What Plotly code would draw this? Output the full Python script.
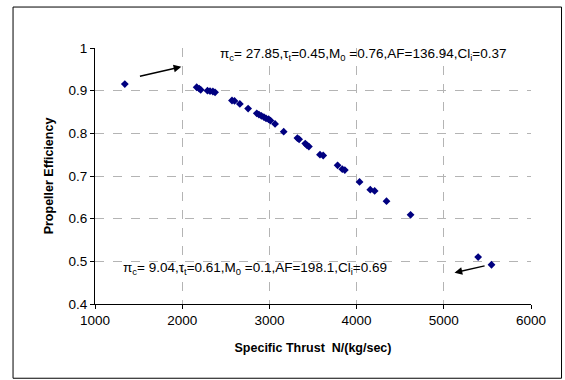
import plotly.graph_objects as go

# Data
specific_thrust = [1342, 2166, 2195, 2212, 2290, 2319, 2352, 2377, 2571, 2600, 2661, 2756,
                   2855, 2880, 2908, 2937, 2962, 2991, 3012, 3065, 3164, 3321, 3341,
                   3411, 3432, 3453, 3580, 3617, 3782, 3836, 3865, 4034, 4157, 4207,
                   4343, 4619, 5394, 5547]
propeller_eff = [0.9155, 0.908, 0.905, 0.902, 0.900, 0.899, 0.898, 0.896, 0.877, 0.876, 0.869, 0.858,
                 0.847, 0.844, 0.841, 0.838, 0.835, 0.833, 0.830, 0.822, 0.804, 0.789, 0.786,
                 0.776, 0.772, 0.769, 0.750, 0.748, 0.725, 0.716, 0.714, 0.686, 0.668, 0.665,
                 0.641, 0.609, 0.510, 0.492]

x_ticks = [1000, 2000, 3000, 4000, 5000, 6000]
y_ticks = [0.4, 0.5, 0.6, 0.7, 0.8, 0.9, 1.0]

top_label = "π<sub>c</sub>= 27.85,τ<sub>t</sub>=0.45,M<sub>0</sub> =0.76,AF=136.94,Cl<sub>i</sub>=0.37"
bottom_label = "π<sub>c</sub>= 9.04,τ<sub>t</sub>=0.61,M<sub>0</sub> =0.1,AF=198.1,Cl<sub>i</sub>=0.69"

# arrows: (tail_x, tail_y, head_x, head_y) in data units
arrow_top = (1498, 0.933, 1990, 0.956)
arrow_bottom = (5485, 0.490, 5123, 0.4735)

FONT = "Liberation Sans, Arial, sans-serif"

fig = go.Figure()
fig.add_trace(go.Scatter(
    x=specific_thrust, y=propeller_eff, mode="markers",
    marker=dict(symbol="diamond", size=6, color="#000080", line=dict(width=0)),
    showlegend=False, cliponaxis=False))

axis_common = dict(showgrid=True, gridcolor="#b4b4b4", griddash="dash", gridwidth=1,
                   showline=True, linecolor="black", linewidth=1,
                   ticks="outside", tickcolor="black", ticklen=4, tickwidth=1,
                   zeroline=False, tickfont=dict(family=FONT, size=13.5, color="black"))

fig.update_xaxes(range=[1000, 6000], tickvals=x_ticks,
                 title=dict(text="<b>Specific Thrust  N/(kg/sec)</b>",
                            font=dict(family=FONT, size=12.5, color="black"), standoff=16),
                 **axis_common)
fig.update_yaxes(range=[0.4, 1.0], tickvals=y_ticks, ticktext=[f"{v:g}" for v in y_ticks],
                 title=dict(text="<b>Propeller Efficiency</b>",
                            font=dict(family=FONT, size=12.5, color="black"), standoff=12),
                 **axis_common)

shapes = [
    # outer chart border
    dict(type="rect", xref="paper", yref="paper", x0=-0.188, x1=1.07, y0=-0.29, y1=1.16,
         line=dict(color="black", width=1), fillcolor="rgba(0,0,0,0)", layer="below"),
    # white text boxes covering gridlines
    dict(type="rect", xref="paper", yref="paper", x0=0.253, x1=1.02, y0=0.855, y1=1.04,
         line=dict(width=0), fillcolor="white", layer="between"),
    dict(type="rect", xref="paper", yref="paper", x0=0.040, x1=0.800, y0=0.0, y1=0.211,
         line=dict(width=0), fillcolor="white", layer="between"),
]

annotations = [
    dict(text=top_label, xref="paper", yref="paper", x=0.282, y=0.973, xanchor="left",
         yanchor="middle", showarrow=False, font=dict(family=FONT, size=13.5, color="black")),
    dict(text=bottom_label, xref="paper", yref="paper", x=0.060, y=0.14, xanchor="left",
         yanchor="middle", showarrow=False, font=dict(family=FONT, size=13.5, color="black")),
]
for (tx, ty, hx, hy) in (arrow_top, arrow_bottom):
    annotations.append(dict(x=hx, y=hy, ax=tx, ay=ty, xref="x", yref="y", axref="x", ayref="y",
                            text="", showarrow=True, arrowhead=2, arrowsize=1.1,
                            arrowwidth=1.4, arrowcolor="black", standoff=0))

fig.update_layout(width=565, height=380, margin=dict(l=94.5, r=33.5, t=48, b=76),
                  paper_bgcolor="white", plot_bgcolor="white",
                  shapes=shapes, annotations=annotations,
                  font=dict(family=FONT, color="black"))

fig.write_html("out.html")
